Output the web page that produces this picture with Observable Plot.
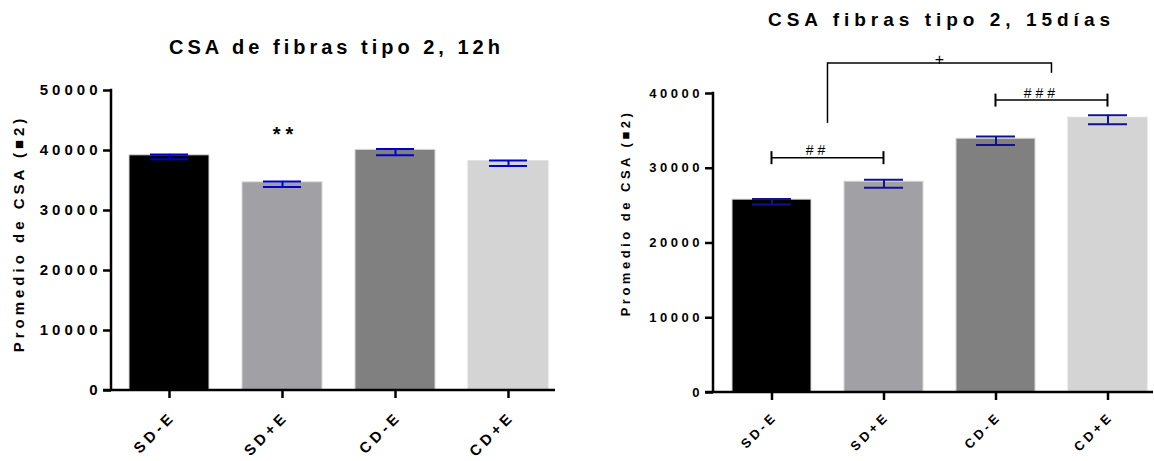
<!DOCTYPE html>
<html><head><meta charset="utf-8">
<script src="https://cdn.jsdelivr.net/npm/d3@7"></script>
<script src="https://cdn.jsdelivr.net/npm/@observablehq/plot@0.6"></script>
<style>
html,body{margin:0;padding:0;background:#fff;}
#wrap{position:relative;width:1154px;height:461px;overflow:hidden;background:#fff;}
#left{position:absolute;left:0;top:0;}
#right{position:absolute;left:580px;top:0;}
svg{background:#fff;}
svg text{font-family:"Liberation Sans",Arial,sans-serif;}
</style>
</head><body>
<div id="wrap"><div id="left"></div><div id="right"></div></div>
<script>
// ---- data ----
const categories = ["SD-E", "SD+E", "CD-E", "CD+E"];
const barColors = ["#000000", "#a1a0a5", "#808080", "#d4d4d4"];

const title12h = "CSA de fibras tipo 2, 12h";
const mean12h = [39200, 34700, 40100, 38200];
const low12h  = [38550, 33900, 39200, 37400];
const high12h = [39350, 34850, 40250, 38320];
const ticks12h = [0, 10000, 20000, 30000, 40000, 50000];
const sigCats12h = ["SD+E"];
const sigLevels12h = [41600];
const sigTexts12h = ["**"];

const title15d = "CSA fibras tipo 2, 15días";
const mean15d = [25800, 28200, 33950, 36750];
const low15d  = [25150, 27400, 33100, 35900];
const high15d = [25900, 28450, 34250, 37100];
const ticks15d = [0, 10000, 20000, 30000, 40000];
// significance brackets (category index positions, fractional = between bars)
const bracketLabels15d = ["##", "###", "+"];
const bracketFrom15d = [0, 2, 0.5];
const bracketTo15d = [1, 3, 2.5];
const bracketLevel15d = [31350, 39050, 44000];
const bracketLeftDrop15d = [null, null, 36000];
const bracketRightDrop15d = [null, null, 42700];

const yLabel = "Promedio de CSA (\u25A02)";

// ---- helpers ----
const PAD_INNER = 0.295;

function bandInfo(x) {
  const c0 = x(categories[0]), c1 = x(categories[1]);
  const step = c1 - c0;
  return {step, bw: step * (1 - PAD_INNER)};
}

function axisLines(yMax, tick) {
  return (index, scales, values, dims) => {
    const {y} = scales;
    const g = d3.create("svg:g").attr("stroke", "#000").attr("fill", "none").attr("stroke-width", 2.5);
    const left = dims.marginLeft, right = dims.width - dims.marginRight;
    const y0 = y(0), yt = y(yMax);
    g.append("line").attr("x1", left).attr("x2", left).attr("y1", y0).attr("y2", yt - 1.25);
    g.append("line").attr("x1", left - tick).attr("x2", right).attr("y1", y0).attr("y2", y0);
    return g.node();
  };
}

function bracketMark(labels, froms, tos, levels, lDrops, rDrops) {
  return (index, scales, values, dims) => {
    const {x, y} = scales;
    const {step, bw} = bandInfo(x);
    const pos = f => x(categories[Math.floor(f)]) + bw / 2 + (f - Math.floor(f)) * step;
    const g = d3.create("svg:g").attr("fill", "none");
    labels.forEach((lab, i) => {
      const xa = pos(froms[i]), xb = pos(tos[i]), yl = y(levels[i]);
      g.append("line").attr("x1", xa).attr("x2", xb).attr("y1", yl).attr("y2", yl)
        .attr("stroke", "#000").attr("stroke-width", 1.5);
      let ty, tdx, fs;
      if (lDrops[i] == null) {
        [xa, xb].forEach(xx => g.append("line").attr("x1", xx).attr("x2", xx)
          .attr("y1", yl - 6.5).attr("y2", yl + 6.5).attr("stroke", "#000").attr("stroke-width", 2));
        ty = yl - 2.5; tdx = -10; fs = 14;
      } else {
        g.append("line").attr("x1", xa).attr("x2", xa).attr("y1", yl - 0.75).attr("y2", y(lDrops[i]))
          .attr("stroke", "#000").attr("stroke-width", 1.5);
        g.append("line").attr("x1", xb).attr("x2", xb).attr("y1", yl - 0.75).attr("y2", y(rDrops[i]))
          .attr("stroke", "#000").attr("stroke-width", 1.5);
        ty = yl + 1.5; tdx = 2; fs = 16;
      }
      g.append("text").attr("x", (xa + xb) / 2 + tdx).attr("y", ty)
        .attr("text-anchor", "middle").attr("fill", "#000").attr("font-size", fs)
        .attr("font-family", "Liberation Sans, Arial, sans-serif").attr("letter-spacing", "4px")
        .text(lab);
    });
    return g.node();
  };
}

function panel(cfg) {
  const rows = categories.map((c, i) => ({cat: c, mean: cfg.mean[i], low: cfg.low[i], high: cfg.high[i], color: barColors[i]}));
  const yMax = cfg.ticks[cfg.ticks.length - 1];
  const marks = [
    Plot.barY(rows, {x: "cat", y: "mean", fill: "color", stroke: "#d8d8d8", strokeWidth: 1}),
    Plot.ruleX(rows, {x: "cat", y1: "low", y2: "high", stroke: cfg.errColor, strokeWidth: 2}),
    Plot.tickY(rows, {x: "cat", y: "low", stroke: cfg.errColor, strokeWidth: 2, insetLeft: cfg.capInset, insetRight: cfg.capInset}),
    Plot.tickY(rows, {x: "cat", y: "high", stroke: cfg.errColor, strokeWidth: 2, insetLeft: cfg.capInset, insetRight: cfg.capInset}),
    axisLines(yMax, 8),
    Plot.axisY({ticks: cfg.ticks, tickSize: 8, tickPadding: cfg.tickPad, tickFormat: d => String(d), label: null,
      fontSize: cfg.tickFont, fontWeight: "bold", strokeWidth: 2.5}),
    Plot.axisX({tickSize: 8, tickFormat: () => "", label: null, strokeWidth: 2.5}),
    Plot.text(categories, {x: d => d, text: d => d, frameAnchor: "bottom", rotate: -45, textAnchor: "end",
      lineAnchor: "bottom", dx: cfg.xlabDx, dy: cfg.xlabDy, fontSize: cfg.tickFont, fontWeight: "bold"}),
    Plot.text([cfg.title], {text: d => d, frameAnchor: "top", lineAnchor: "bottom", dy: cfg.titleDy, dx: cfg.titleDx,
      fontSize: cfg.titleFont, fontWeight: "bold"}),
    Plot.text([yLabel], {text: d => d, frameAnchor: "left", rotate: -90, lineAnchor: "bottom", textAnchor: "middle",
      dx: cfg.labelDx, dy: cfg.labelDy, fontSize: cfg.tickFont, fontWeight: "bold"})
  ];
  if (cfg.sigCats) {
    marks.push(Plot.text(cfg.sigCats.map((c, i) => ({cat: c, y: cfg.sigLevels[i], t: cfg.sigTexts[i]})),
      {x: "cat", y: "y", text: "t", dx: 3, lineAnchor: "bottom", fontSize: 20, fontWeight: "bold"}));
  }
  if (cfg.brackets) marks.push(cfg.brackets);
  const svg = Plot.plot({
    width: cfg.width, height: 461,
    marginLeft: cfg.marginLeft, marginRight: cfg.marginRight, marginTop: cfg.marginTop, marginBottom: cfg.marginBottom,
    x: {type: "band", domain: categories, range: cfg.xRange, paddingInner: PAD_INNER, paddingOuter: 0, axis: null},
    y: {domain: [0, yMax], axis: null},
    color: {type: "identity"},
    style: {background: "#fff", color: "#000", fontFamily: "Liberation Sans, Arial, sans-serif", overflow: "visible"},
    marks
  });
  d3.select(svg).selectAll("text").each(function() {
    if (this.hasAttribute("letter-spacing")) return;
    const t = this.textContent;
    this.style.letterSpacing = (t === cfg.title ? cfg.titleLs : (sigTexts12h.includes(t) ? 5 : cfg.ls)) + "px";
  });
  return svg;
}

document.getElementById("left").appendChild(panel({
  width: 580, marginLeft: 111, marginRight: 25, marginTop: 90, marginBottom: 71,
  xRange: [128, 548], mean: mean12h, low: low12h, high: high12h, ticks: ticks12h,
  errColor: "#0000cd", capInset: 21, tickFont: 15, tickPad: 2, ls: 4,
  xlabDx: 7, xlabDy: 27,
  title: title12h, titleFont: 20, titleLs: 4, titleDy: -37, titleDx: 3, labelDx: -88, labelDy: -7,
  sigCats: sigCats12h, sigLevels: sigLevels12h, sigTexts: sigTexts12h
}));

document.getElementById("right").appendChild(panel({
  width: 574, marginLeft: 133, marginRight: 1, marginTop: 93, marginBottom: 69,
  xRange: [150, 568], mean: mean15d, low: low15d, high: high15d, ticks: ticks15d,
  errColor: "#12128c", capInset: 20, tickFont: 13, tickPad: 2.5, ls: 3.5,
  xlabDx: 6, xlabDy: 25,
  title: title15d, titleFont: 19, titleLs: 5, titleDy: -68, titleDx: 8, labelDx: -84, labelDy: -30,
  brackets: bracketMark(bracketLabels15d, bracketFrom15d, bracketTo15d, bracketLevel15d, bracketLeftDrop15d, bracketRightDrop15d)
}));
</script>
</body></html>
